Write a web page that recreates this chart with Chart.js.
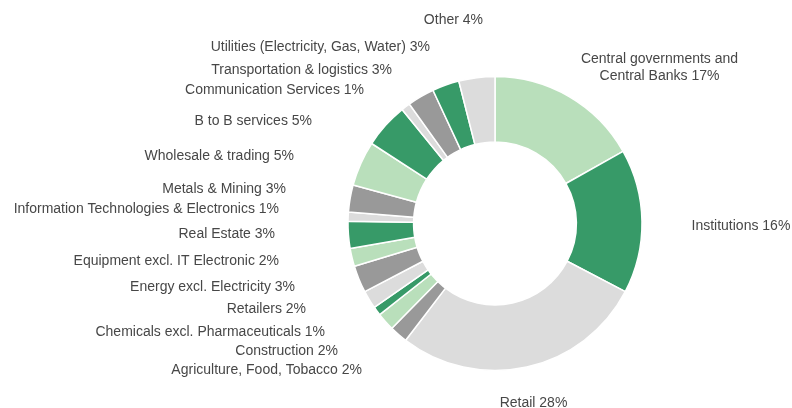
<!DOCTYPE html>
<html>
<head>
<meta charset="utf-8">
<script src="https://cdn.jsdelivr.net/npm/chart.js@4/dist/chart.umd.min.js"></script>
<style>
  html, body { margin: 0; padding: 0; background: #ffffff; }
  #wrap { width: 792px; height: 408px; }
</style>
</head>
<body>
<div id="wrap"><canvas id="c" width="792" height="408"></canvas></div>
<script>
// Exposure by sector, in percent, clockwise from 12 o'clock
const sectors = [
  ["Central governments and", "Central Banks"],
  "Institutions",
  "Retail",
  "Agriculture, Food, Tobacco",
  "Construction",
  "Chemicals excl. Pharmaceuticals",
  "Retailers",
  "Energy excl. Electricity",
  "Equipment excl. IT Electronic",
  "Real Estate",
  "Information Technologies & Electronics",
  "Metals & Mining",
  "Wholesale & trading",
  "B to B services",
  "Communication Services",
  "Transportation & logistics",
  "Utilities (Electricity, Gas, Water)",
  "Other"
];
const shares = [17, 16, 28, 2, 2, 1, 2, 3, 2, 3, 1, 3, 5, 5, 1, 3, 3, 4];

// Slice fills
const LIGHT_GREEN = "#b9dfbb", DARK_GREEN = "#379a68", LIGHT_GREY = "#dcdcdc", GREY = "#999999";
const sliceColors = [
  LIGHT_GREEN, DARK_GREEN, LIGHT_GREY, GREY,
  LIGHT_GREEN, DARK_GREEN, LIGHT_GREY, GREY,
  LIGHT_GREEN, DARK_GREEN, LIGHT_GREY, GREY,
  LIGHT_GREEN, DARK_GREEN, LIGHT_GREY, GREY,
  DARK_GREEN, LIGHT_GREY
];

// Label anchors relative to the ring centre: [dx, dy, textAlign]
const labelLayout = [
  [164.5, -156, "center"],
  [196.5, 2.5, "left"],
  [38.5, 179.5, "center"],
  [-133, 146.5, "right"],
  [-157, 127.5, "right"],
  [-170, 108.5, "right"],
  [-189, 85.5, "right"],
  [-200, 63.5, "right"],
  [-216, 37.5, "right"],
  [-220, 10.5, "right"],
  [-216, -14.5, "right"],
  [-209, -34.5, "right"],
  [-201, -67.5, "right"],
  [-183, -102.5, "right"],
  [-131, -133.5, "right"],
  [-103, -153.5, "right"],
  [-65, -176.5, "right"],
  [-12, -203.5, "right"]
];

const sliceLabels = {
  id: "sliceLabels",
  afterDatasetsDraw(chart) {
    const arc = chart.getDatasetMeta(0).data[0];
    if (!arc) return;
    const cx = arc.x, cy = arc.y;
    const ctx = chart.ctx;
    ctx.save();
    ctx.font = "14px 'Liberation Sans', Arial, sans-serif";
    ctx.fillStyle = "#474747";
    ctx.textBaseline = "middle";
    const lineH = 17;
    chart.data.labels.forEach((lab, i) => {
      const [dx, dy, align] = labelLayout[i];
      const value = chart.data.datasets[0].data[i];
      const lines = Array.isArray(lab) ? lab.slice() : [lab];
      lines[lines.length - 1] = lines[lines.length - 1] + " " + value + "%";
      ctx.textAlign = align;
      lines.forEach((t, k) => {
        ctx.fillText(t, cx + dx, cy + dy + (k - (lines.length - 1) / 2) * lineH);
      });
    });
    ctx.restore();
  }
};

new Chart(document.getElementById("c"), {
  type: "doughnut",
  data: {
    labels: sectors,
    datasets: [{
      data: shares,
      backgroundColor: sliceColors,
      borderColor: "#ffffff",
      borderWidth: 1.5,
      hoverOffset: 0
    }]
  },
  options: {
    responsive: false,
    animation: false,
    radius: 147,
    cutout: 81,
    layout: { padding: { left: 348, right: 150, top: 76.5, bottom: 37.5 } },
    plugins: {
      legend: { display: false },
      tooltip: { enabled: false }
    }
  },
  plugins: [sliceLabels]
});
</script>
</body>
</html>
